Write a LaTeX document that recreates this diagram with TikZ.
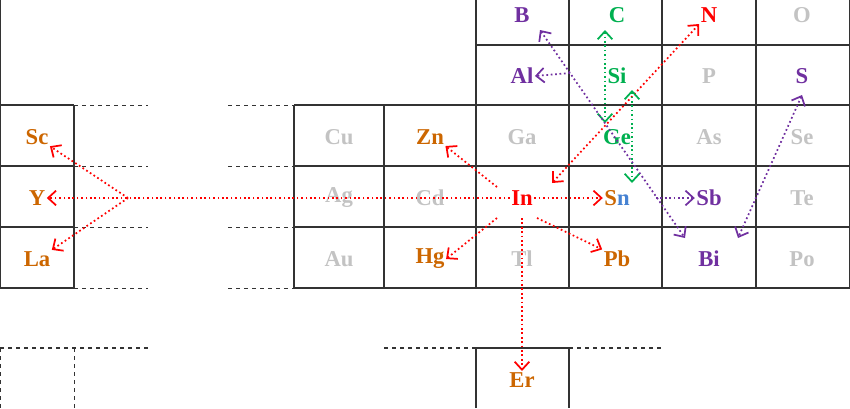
\documentclass[tikz,border=0pt]{standalone}
\usepackage{fontspec}
\setmainfont{Liberation Serif}
\definecolor{elgray}{RGB}{195,195,195}
\definecolor{elorange}{RGB}{204,102,0}
\definecolor{elpurple}{RGB}{112,48,160}
\definecolor{elgreen}{RGB}{0,176,80}
\definecolor{elred}{RGB}{255,0,0}
\definecolor{elblue}{RGB}{70,130,210}
\usetikzlibrary{arrows.meta}
\tikzset{
  el/.style={font=\fontsize{17}{17}\selectfont\bfseries, inner sep=1pt},
  grid/.style={draw=black!80, line width=0.9pt},
  gapline/.style={dashed, draw=black!80, line width=0.7pt},
  link/.style={dotted, line width=1.3pt, ->, >={Straight Barb[length=6pt,width=11pt]}},
  dlink/.style={link, <->}
}
\begin{document}
\begin{tikzpicture}[x=0.75pt, y=-0.75pt]
  \useasboundingbox (0,0) rectangle (850,408);
  % Grid
  \draw[grid] (0,0) -- (0,288) -- (74,288);
  \draw[grid] (0,105) -- (74,105) (0,166) -- (74,166) (0,227) -- (74,227) (74,105) -- (74,288);
  \draw[grid] (476,0) -- (476,105) (476,45) -- (850,45);
  \foreach \x in {569,662,756} \draw[grid] (\x,0) -- (\x,288);
  \foreach \y in {105,166,227,288} \draw[grid] (294,\y) -- (850,\y);
  \foreach \x in {294,384,476} \draw[grid] (\x,105) -- (\x,288);
  \draw[grid] (850,0) -- (850,288);
  \foreach \y in {105,166,227,288} \draw[gapline] (74,\y) -- (148,\y) (228,\y) -- (294,\y);
  % Bottom rows
  \draw[gapline, line width=1.1pt] (0,348) -- (148,348) (384,348) -- (476,348) (569,348) -- (662,348);
  \draw[gapline, line width=1.1pt] (0,348) -- (0,408);
  \draw[gapline] (74,348) -- (74,408);
  \draw[grid] (476,408) -- (476,348) -- (569,348) -- (569,408);
  % Elements
  \node[el, elpurple] (B) at (522,15) {B};
  \node[el, elgreen] (C) at (617,15) {C};
  \node[el, elred] (N) at (709,15) {N};
  \node[el, elgray] (O) at (802,15) {O};
  \node[el, elpurple] (Al) at (522,76) {Al};
  \node[el, elgreen] (Si) at (617,76) {Si};
  \node[el, elgray] (P) at (709,76) {P};
  \node[el, elpurple] (S) at (802,76) {S};
  \node[el, elorange] (Sc) at (37,137) {Sc};
  \node[el, elgray] (Cu) at (339,137) {Cu};
  \node[el, elorange] (Zn) at (430,137) {Zn};
  \node[el, elgray] (Ga) at (522,137) {Ga};
  \node[el, elgreen] (Ge) at (617,137) {Ge};
  \node[el, elgray] (As) at (709,137) {As};
  \node[el, elgray] (Se) at (802,137) {Se};
  \node[el, elorange] (Y) at (37,198) {Y};
  \node[el, elgray] (Ag) at (339,198) {Ag};
  \node[el, elgray] (Cd) at (430,198) {Cd};
  \node[el, elred] (In) at (522,198) {In};
  \node[el, elorange] (Sn) at (617,198) {S\textcolor{elblue}{n}};
  \node[el, elpurple] (Sb) at (709,198) {Sb};
  \node[el, elgray] (Te) at (802,198) {Te};
  \node[el, elorange] (La) at (37,259) {La};
  \node[el, elgray] (Au) at (339,259) {Au};
  \node[el, elorange] (Hg) at (430,259) {Hg};
  \node[el, elgray] (Tl) at (522,259) {Tl};
  \node[el, elorange] (Pb) at (617,259) {Pb};
  \node[el, elpurple] (Bi) at (709,259) {Bi};
  \node[el, elgray] (Po) at (802,259) {Po};
  \node[el, elorange] (Er) at (522,380) {Er};
  % Red links
  \coordinate (fork) at (128,198);
  \draw[link, elred] (In.west) -- (Y.east);
  \draw[link, elred] (fork) -- (Sc.south east);
  \draw[link, elred] (fork) -- (La.north east);
  \draw[link, elred] (In.east) -- (Sn.west);
  \draw[link, elred] (In) ++(-25,-11) -- (Zn.south east);
  \draw[link, elred] (In) ++(-25,20) -- (Hg.east);
  \draw[link, elred] (In) ++(15,20) -- (Pb.north west);
  \draw[link, elred] (In) ++(0,20) -- (Er.north);
  \draw[dlink, elred] (In) ++(30,-15) -- (N.south west);
  % Green links
  \draw[dlink, elgreen] (605,30) -- (605,123);
  \draw[dlink, elgreen] (632,90) -- (632,183);
  % Purple links
  \coordinate (bal) at (570,73);
  \coordinate (bsb) at (656,198);
  \draw[dlink, elpurple] (540,30) -- (685,238);
  \draw[link, elpurple] (bal) -- (Al.east);
  \draw[link, elpurple] (bsb) -- (Sb.west);
  \draw[dlink, elpurple] (802,95) -- (738,238);
\end{tikzpicture}
\end{document}
